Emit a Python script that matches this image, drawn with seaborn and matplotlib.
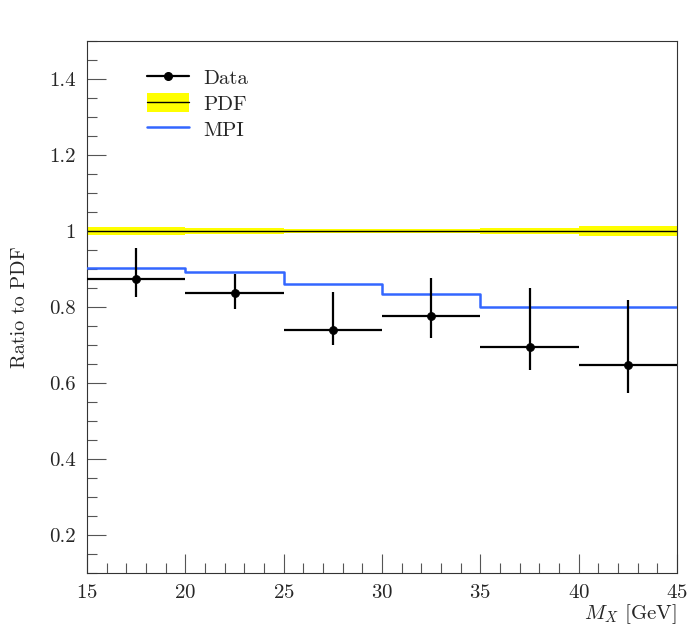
import numpy as np
import pandas as pd
import matplotlib
matplotlib.use("Agg")
import matplotlib.pyplot as plt
import seaborn as sns
from matplotlib.ticker import MultipleLocator, FuncFormatter
from matplotlib.patches import Patch
from matplotlib.lines import Line2D

# ---- data ----
bin_edges = [15, 20, 25, 30, 35, 40, 45]
data_ratio = [0.873, 0.836, 0.739, 0.777, 0.695, 0.647]
data_err_up = [0.081, 0.051, 0.100, 0.100, 0.155, 0.171]
data_err_down = [0.046, 0.040, 0.040, 0.059, 0.060, 0.074]
pdf_ratio = [1.0, 1.0, 1.0, 1.0, 1.0, 1.0]
pdf_band = [0.010, 0.007, 0.005, 0.005, 0.007, 0.012]
mpi_ratio = [0.902, 0.893, 0.860, 0.835, 0.801, 0.799]

sns.set_style("ticks")
plt.rcParams["font.family"] = ["serif"]
plt.rcParams["font.serif"] = ["cmr10", "DejaVu Serif"]
plt.rcParams["mathtext.fontset"] = "cm"
plt.rcParams["axes.formatter.use_mathtext"] = True

fig = plt.figure(figsize=(7.0, 6.32), dpi=100)
ax = fig.add_axes([87/700, 59/632, 590/700, 532/632])

edges = np.array(bin_edges, dtype=float)
centers = 0.5 * (edges[:-1] + edges[1:])
halfw = 0.5 * (edges[1:] - edges[:-1])

# PDF band
for i in range(len(centers)):
    ax.fill_between([edges[i], edges[i+1]],
                    pdf_ratio[i] - pdf_band[i], pdf_ratio[i] + pdf_band[i],
                    color="#ffff00", lw=0, zorder=1)
step_x = list(edges)
pdf_y = list(pdf_ratio) + [pdf_ratio[-1]]
mpi_y = list(mpi_ratio) + [mpi_ratio[-1]]
df = pd.DataFrame({"x": step_x, "pdf": pdf_y, "mpi": mpi_y})
sns.lineplot(data=df, x="x", y="pdf", drawstyle="steps-post", color="black",
             lw=1.0, ax=ax, zorder=2)
sns.lineplot(data=df, x="x", y="mpi", drawstyle="steps-post", color="#3366ff",
             lw=1.8, ax=ax, zorder=3)

# Data with errors
ax.errorbar(centers, data_ratio, xerr=halfw,
            yerr=[data_err_down, data_err_up], fmt="none",
            ecolor="black", elinewidth=1.6, capsize=0, zorder=4)
dpts = pd.DataFrame({"x": centers, "y": data_ratio})
sns.scatterplot(data=dpts, x="x", y="y", color="black", s=34,
                edgecolor="black", ax=ax, zorder=5)

ax.set_xlim(15, 45)
ax.set_ylim(0.1, 1.5)
ax.xaxis.set_major_locator(MultipleLocator(5))
ax.xaxis.set_minor_locator(MultipleLocator(1))
ax.yaxis.set_major_locator(MultipleLocator(0.2))
ax.yaxis.set_minor_locator(MultipleLocator(0.05))
ax.yaxis.set_major_formatter(FuncFormatter(lambda v, p: "%g" % round(v, 3)))
ax.tick_params(axis="both", which="major", direction="in", length=14,
               width=0.8, color="#555555", labelsize=15, pad=8,
               top=False, right=False)
ax.tick_params(axis="both", which="minor", direction="in", length=7,
               width=0.8, color="#555555", top=False, right=False)
for s in ax.spines.values():
    s.set_linewidth(0.8)
    s.set_color("#333333")

ax.set_xlabel("$M_X$ [GeV]", fontsize=15)
ax.xaxis.set_label_coords(1.0, -0.055)
ax.xaxis.label.set_horizontalalignment("right")
ax.set_ylabel("Ratio to PDF", fontsize=14.5)
ax.yaxis.set_label_coords(-0.098, 0.5)

handles = [
    Line2D([0], [0], color="black", lw=1.6, marker="o", markersize=5.5),
    (Patch(facecolor="#ffff00", edgecolor="none"), Line2D([0], [0], color="black", lw=1.0)),
    Line2D([0], [0], color="#3366ff", lw=1.8),
]
leg = ax.legend(handles, ["Data", "PDF", "MPI"], loc="upper left",
                bbox_to_anchor=(0.07, 0.985), frameon=False, fontsize=15,
                handlelength=2.0, handleheight=1.0, labelspacing=0.25,
                handletextpad=0.7)

fig.savefig("out.png", dpi=100)
